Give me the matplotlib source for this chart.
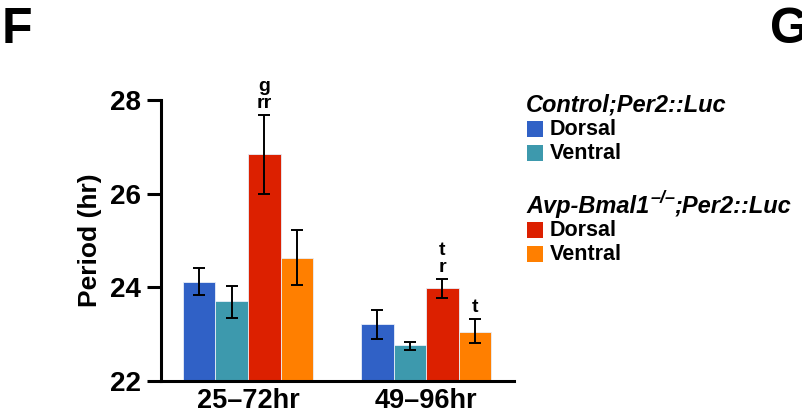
import matplotlib
matplotlib.use('Agg')
import matplotlib.pyplot as plt
import numpy as np
from matplotlib.patches import Rectangle

plt.rcParams['font.family'] = ['Liberation Sans', 'DejaVu Sans']
plt.rcParams['font.weight'] = 'bold'

# data
windows = ['25\u201372hr', '49\u201396hr']
groups = ['Control Dorsal', 'Control Ventral', 'Avp Dorsal', 'Avp Ventral']
colors = ['#3061C6', '#3D99AD', '#DC2000', '#FF7F00']
means = [[24.12, 23.21], [23.70, 22.76], [26.84, 23.99], [24.63, 23.05]]
err_hi = [[24.42, 23.51], [24.03, 22.83], [27.68, 24.18], [25.23, 23.32]]
err_lo = [[23.84, 22.90], [23.35, 22.67], [25.99, 23.77], [24.05, 22.81]]
# significance letters above bars: (group index, window index) -> text
sig = {(2, 0): 'g\nrr', (2, 1): 't\nr', (3, 1): 't'}

# each title is split in (text, superscript) pieces
legend_titles = [[('Control;Per2::Luc', False)],
                 [('Avp-Bmal1', False), ('\u2013/\u2013', True), (';Per2::Luc', False)]]
legend_labels = ['Dorsal', 'Ventral']

fig = plt.figure(figsize=(8.02, 4.15), dpi=100)
ax = fig.add_axes([0.2004, 0.082, 0.4406, 0.677])

x = np.arange(len(windows))
w = 0.1826
for i, g in enumerate(groups):
    xi = x + (i - 1.5) * w
    m = np.array(means[i])
    lo = m - np.array(err_lo[i])
    hi = np.array(err_hi[i]) - m
    ax.bar(xi, m - 22, bottom=22, width=w, color=colors[i],
           edgecolor='#e8eef8', linewidth=0.6, zorder=2)
    ax.errorbar(xi, m, yerr=[lo, hi], fmt='none', ecolor='black',
                elinewidth=1.4, capsize=4, capthick=1.4, zorder=3)
    for j in range(len(windows)):
        if (i, j) in sig:
            ax.text(xi[j], err_hi[i][j] + 0.06, sig[(i, j)], ha='center',
                    va='bottom', fontsize=14, fontweight='bold',
                    linespacing=1.0)

ax.set_xlim(-0.49, 1.494)
ax.set_ylim(22, 28)
ax.set_yticks([22, 24, 26, 28])
ax.set_xticks(x)
ax.set_xticklabels(windows, fontsize=19.5, fontweight='bold')
ax.tick_params(axis='y', labelsize=20, width=2.2, length=10, pad=4)
ax.tick_params(axis='x', length=0, pad=5)
for lab in ax.get_yticklabels():
    lab.set_fontweight('bold')
ax.set_ylabel('Period (hr)', fontsize=19, fontweight='bold', labelpad=6)
ax.spines['top'].set_visible(False)
ax.spines['right'].set_visible(False)
ax.spines['left'].set_linewidth(2.2)
ax.spines['bottom'].set_linewidth(2.2)
ax.spines['left'].set_bounds(22, 28)

# legend drawn by hand to match the figure layout
W, H = 802, 415
renderer = fig.canvas.get_renderer()
title_y = [105, 206]
for k, pieces in enumerate(legend_titles):
    xpos = 526
    for txt, sup in pieces:
        if sup:
            t = fig.text((xpos + 1) / W, 1 - (title_y[k] - 8) / H, txt, fontsize=13,
                         fontstyle='italic', fontweight='bold', va='center', ha='left')
        else:
            t = fig.text(xpos / W, 1 - title_y[k] / H, txt, fontsize=17,
                         fontstyle='italic', fontweight='bold', va='center', ha='left')
        xpos += t.get_window_extent(renderer).width
    for n, lab in enumerate(legend_labels):
        yc = title_y[k] + 24 + n * 24
        fig.patches.append(Rectangle((527 / W, 1 - (yc + 8) / H), 16 / W, 16 / H,
                                     transform=fig.transFigure,
                                     facecolor=colors[2 * k + n], edgecolor='none'))
        fig.text(550 / W, 1 - yc / H, lab, fontsize=15.5, fontweight='bold',
                 va='center', ha='left')

fig.text(2 / W, 1 - 30 / H, 'F', fontsize=36, fontweight='bold', va='center')
fig.text(770 / W, 1 - 30 / H, 'G', fontsize=36, fontweight='bold', va='center')

fig.savefig('out.png', dpi=100)
